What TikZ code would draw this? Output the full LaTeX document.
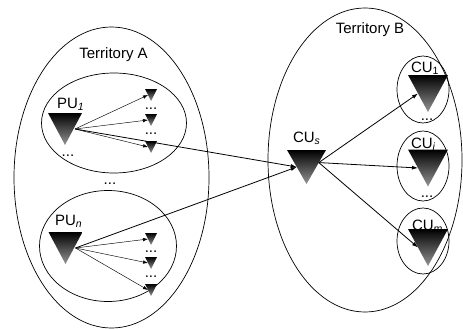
\documentclass[tikz,border=0pt]{standalone}
\usepackage{fontspec}
\setmainfont{Liberation Sans}
\usetikzlibrary{arrows.meta,calc}
\begin{document}
\begin{tikzpicture}[x=1pt,y=-1pt,
  every node/.style={inner sep=0pt, outer sep=0pt, font=\fontsize{15}{18}\selectfont},
  wedge/.style={rectangle,
    path picture={\shade[top color=black, bottom color=black!42]
      (path picture bounding box.north west) -- (path picture bounding box.north east)
      -- (path picture bounding box.south) -- cycle;}},
  bigwedge/.style={wedge, minimum width=34pt, minimum height=32pt},
  smallwedge/.style={wedge, minimum width=12pt, minimum height=12pt},
  cuwedge/.style={wedge, minimum width=40pt, minimum height=37pt},
  region/.style={draw, line width=0.7pt},
  thinlink/.style={-{Latex[length=5pt,width=3.5pt]}, line width=0.45pt},
  link/.style={-{Latex[length=6pt,width=4pt]}, line width=0.8pt},
  dots/.style={anchor=base},
  tag/.style={anchor=base west}
]
\useasboundingbox (0,0) rectangle (463,329);

% territories and groups
\draw[region] (111.5,177.5) ellipse [x radius=97.5, y radius=150.5];
\draw[region] (114,123) ellipse [x radius=72.5, y radius=50];
\draw[region] (108,246) ellipse [x radius=68.5, y radius=55.5];
\draw[region] (365,160) ellipse [x radius=97, y radius=152];
\draw[region] (423,89.5) ellipse [x radius=26, y radius=33.5];
\draw[region] (423,166) ellipse [x radius=26, y radius=35];
\draw[region] (423,241) ellipse [x radius=26, y radius=33];

\node[anchor=base] (ta) at (113.5,59) {Territory A};
\node[anchor=base] (tb) at (370,34) {Territory B};

% primary users
\node[bigwedge] (pu1) at (65,129) {};
\node[bigwedge] (pun) at (65.5,248) {};
\node[tag] (pu1l) at (57,108) {PU\textsubscript{\textit{1}}};
\node[tag] (punl) at (55,225) {PU\textsubscript{\textit{n}}};

\node[smallwedge] (a1) at (151,95) {};
\node[smallwedge] (a2) at (151,120) {};
\node[smallwedge] (a3) at (151,147) {};
\node[smallwedge] (b1) at (151,239) {};
\node[smallwedge] (b2) at (151,263) {};
\node[smallwedge] (b3) at (151,290) {};

\node[dots] (d1) at (151,109.5) {...};
\node[dots] (d2) at (151,134.5) {...};
\node[dots] (d3) at (68,156.5) {...};
\node[dots] (d4) at (110,184.5) {...};
\node[dots] (d5) at (151,252.5) {...};
\node[dots] (d6) at (151,277.5) {...};

% cognitive users
\node[wedge, minimum width=39pt, minimum height=34pt] (cus) at (306.5,167) {};
\node[tag] (cusl) at (293,142) {CU\textsubscript{\textit{s}}};

\node[cuwedge] (cu1) at (428,93.5) {};
\node[cuwedge] (cuj) at (428,168) {};
\node[cuwedge] (cum) at (428,247.5) {};
\node[tag] (cu1l) at (411,72) {CU\textsubscript{1}};
\node[tag] (cujl) at (411,148) {CU\textsubscript{\textit{j}}};
\node[tag] (cuml) at (412,230) {CU\textsubscript{\textit{m}}};
\node[dots] (d7) at (427,120.5) {...};
\node[dots] (d8) at (427,197.5) {...};

% links inside territory A
\foreach \s/\t in {pu1/a1, pu1/a2, pu1/a3, pun/b1, pun/b2, pun/b3}
  \draw[thinlink] ([xshift=10pt]\s.center) -- ($(\t.north west)!0.5!(\t.south)$);

% links towards and from the secondary user
\draw[link] ([xshift=10pt]pu1.center) -- ($(cus.north west)!0.5!(cus.south)$);
\draw[link] ([xshift=10pt]pun.center) -- ($(cus.north west)!0.5!(cus.south)$);
\foreach \t in {cu1, cuj, cum}
  \draw[link] ($(cus.north east)!0.37!(cus.south)$) -- ($(\t.north west)!0.5!(\t.south)$);
\end{tikzpicture}
\end{document}
